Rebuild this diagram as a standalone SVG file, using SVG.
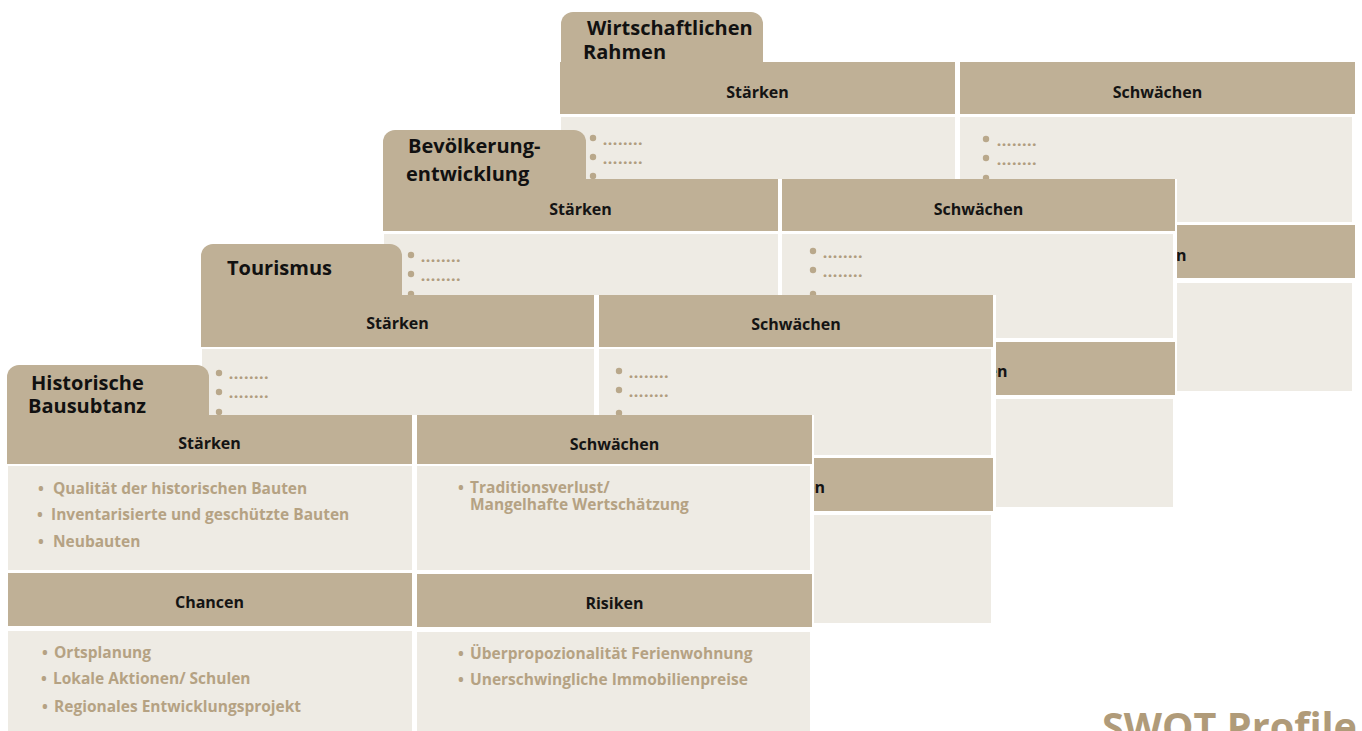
<svg xmlns="http://www.w3.org/2000/svg" width="1362" height="731" viewBox="0 0 1362 731">
<style>
.bg{fill:#ffffff}
.hd{fill:#bfb096}
.bd{fill:#eeebe4}
.blt{fill:#b9a88b}
.ttl{font-family:"Open Sans","Liberation Sans",sans-serif;font-weight:700;font-size:20px;fill:#111111}
.hl{font-family:"Open Sans","Liberation Sans",sans-serif;font-weight:700;font-size:16px;fill:#141414;text-anchor:middle}
.it{font-family:"Open Sans","Liberation Sans",sans-serif;font-weight:700;font-size:15.5px;fill:#b5a283}
.dots{font-family:"Open Sans","Liberation Sans",sans-serif;font-weight:800;font-size:14px;fill:#b09d7f;letter-spacing:1px}
.big{font-family:"Open Sans","Liberation Sans",sans-serif;font-weight:700;font-size:39.6px;fill:#b09b79}
</style>
<rect x="0" y="0" width="1362" height="731" fill="#ffffff"/>

<g id="card-wirtschaft">
  <rect class="bg" x="558" y="62" width="800" height="331"/>
  <path class="hd" d="M561,63 V24 A12,12 0 0 1 573,12 H751 A12,12 0 0 1 763,24 V63 Z"/>
  <rect class="hd" x="560" y="62" width="395" height="52"/>
  <rect class="hd" x="960" y="62" width="395" height="52"/>
  <rect class="bd" x="561" y="117" width="394" height="105"/>
  <rect class="bd" x="960" y="117" width="392" height="105"/>
  <rect class="hd" x="560" y="225" width="395" height="53"/>
  <rect class="hd" x="960" y="225" width="395" height="53"/>
  <rect class="bd" x="561" y="283" width="394" height="108"/>
  <rect class="bd" x="960" y="283" width="392" height="108"/>
  <text class="ttl" x="587" y="35">Wirtschaftlichen</text>
  <text class="ttl" x="583" y="59">Rahmen</text>
  <text class="hl" x="757.5" y="98">Stärken</text>
  <text class="hl" x="1157.5" y="98">Schwächen</text>
  <text class="hl" x="1157.5" y="261">Risiken</text>
  <circle class="blt" cx="593" cy="138" r="3.2"/>
  <circle class="blt" cx="593" cy="157" r="3.2"/>
  <circle class="blt" cx="593" cy="176" r="3.2"/>
  <text class="dots" x="603" y="145">........</text>
  <text class="dots" x="603" y="164">........</text>
  <circle class="blt" cx="986" cy="139" r="3.2"/>
  <circle class="blt" cx="986" cy="158" r="3.2"/>
  <circle class="blt" cx="986" cy="178" r="3.2"/>
  <text class="dots" x="997" y="146">........</text>
  <text class="dots" x="997" y="165">........</text>
</g>

<g id="card-bevoelkerung">
  <rect class="bg" x="381" y="179" width="796" height="330"/>
  <path class="hd" d="M383,180 V142 A12,12 0 0 1 395,130 H574 A12,12 0 0 1 586,142 V180 Z"/>
  <rect class="hd" x="383" y="179" width="395" height="52"/>
  <rect class="hd" x="782" y="179" width="393" height="52"/>
  <rect class="bd" x="384" y="234" width="394" height="104"/>
  <rect class="bd" x="782" y="234" width="391" height="104"/>
  <rect class="hd" x="383" y="342" width="395" height="53"/>
  <rect class="hd" x="782" y="342" width="393" height="53"/>
  <rect class="bd" x="384" y="399" width="394" height="108"/>
  <rect class="bd" x="782" y="399" width="391" height="108"/>
  <text class="ttl" x="408" y="153">Bevölkerung-</text>
  <text class="ttl" x="406" y="181">entwicklung</text>
  <text class="hl" x="580.5" y="215">Stärken</text>
  <text class="hl" x="978.5" y="215">Schwächen</text>
  <text class="hl" x="978.5" y="377">Risiken</text>
  <circle class="blt" cx="411" cy="255" r="3.2"/>
  <circle class="blt" cx="411" cy="274" r="3.2"/>
  <circle class="blt" cx="411" cy="294" r="3.2"/>
  <text class="dots" x="421" y="262">........</text>
  <text class="dots" x="421" y="281">........</text>
  <circle class="blt" cx="813" cy="251" r="3.2"/>
  <circle class="blt" cx="813" cy="270" r="3.2"/>
  <circle class="blt" cx="813" cy="294" r="3.2"/>
  <text class="dots" x="823" y="258">........</text>
  <text class="dots" x="823" y="277">........</text>
</g>

<g id="card-tourismus">
  <rect class="bg" x="199" y="295" width="797" height="330"/>
  <path class="hd" d="M201,296 V256 A12,12 0 0 1 213,244 H390 A12,12 0 0 1 402,256 V296 Z"/>
  <rect class="hd" x="201" y="295" width="393" height="52"/>
  <rect class="hd" x="599" y="295" width="394" height="52"/>
  <rect class="bd" x="202" y="349" width="392" height="106"/>
  <rect class="bd" x="599" y="349" width="392" height="106"/>
  <rect class="hd" x="201" y="458" width="393" height="53"/>
  <rect class="hd" x="599" y="458" width="394" height="53"/>
  <rect class="bd" x="202" y="515" width="392" height="108"/>
  <rect class="bd" x="599" y="515" width="392" height="108"/>
  <text class="ttl" x="227" y="275">Tourismus</text>
  <text class="hl" x="397.5" y="329">Stärken</text>
  <text class="hl" x="796" y="330">Schwächen</text>
  <text class="hl" x="796" y="493">Risiken</text>
  <circle class="blt" cx="219" cy="373" r="3.2"/>
  <circle class="blt" cx="219" cy="392" r="3.2"/>
  <circle class="blt" cx="219" cy="412" r="3.2"/>
  <text class="dots" x="229" y="379">........</text>
  <text class="dots" x="229" y="398">........</text>
  <circle class="blt" cx="619" cy="371" r="3.2"/>
  <circle class="blt" cx="619" cy="390" r="3.2"/>
  <circle class="blt" cx="619" cy="413" r="3.2"/>
  <text class="dots" x="629" y="378">........</text>
  <text class="dots" x="629" y="397">........</text>
</g>

<g id="card-historische">
  <rect class="bg" x="5" y="415" width="809" height="316"/>
  <path class="hd" d="M7,416 V377 A12,12 0 0 1 19,365 H197 A12,12 0 0 1 209,377 V416 Z"/>
  <rect class="hd" x="7" y="415" width="405" height="49"/>
  <rect class="hd" x="417" y="415" width="395" height="49"/>
  <rect class="bd" x="8" y="466" width="404" height="104"/>
  <rect class="bd" x="417" y="466" width="393" height="104"/>
  <rect class="hd" x="8" y="573" width="404" height="53"/>
  <rect class="hd" x="417" y="574" width="395" height="53"/>
  <rect class="bd" x="8" y="631" width="404" height="110"/>
  <rect class="bd" x="417" y="632" width="393" height="110"/>
  <text class="ttl" x="31" y="390">Historische</text>
  <text class="ttl" x="28" y="413">Bausubtanz</text>
  <text class="hl" x="209.5" y="449">Stärken</text>
  <text class="hl" x="614.5" y="450">Schwächen</text>
  <text class="hl" x="209.5" y="608">Chancen</text>
  <text class="hl" x="614.5" y="609">Risiken</text>
  <text class="it" y="494"><tspan x="38">•</tspan><tspan x="53">Qualität der historischen Bauten</tspan></text>
  <text class="it" y="520"><tspan x="37">•</tspan><tspan x="51">Inventarisierte und geschützte Bauten</tspan></text>
  <text class="it" y="547"><tspan x="38">•</tspan><tspan x="53">Neubauten</tspan></text>
  <text class="it" y="493"><tspan x="458">•</tspan><tspan x="470">Traditionsverlust/</tspan><tspan x="470" y="510">Mangelhafte Wertschätzung</tspan></text>
  <text class="it" y="658"><tspan x="42">•</tspan><tspan x="54">Ortsplanung</tspan></text>
  <text class="it" y="684"><tspan x="41">•</tspan><tspan x="53">Lokale Aktionen/ Schulen</tspan></text>
  <text class="it" y="712"><tspan x="42">•</tspan><tspan x="54">Regionales Entwicklungsprojekt</tspan></text>
  <text class="it" y="659"><tspan x="458">•</tspan><tspan x="470">Überpropozionalität Ferienwohnung</tspan></text>
  <text class="it" y="685"><tspan x="458">•</tspan><tspan x="470">Unerschwingliche Immobilienpreise</tspan></text>
</g>

<g id="title">
  <text class="big" x="1357" y="741" text-anchor="end">SWOT Profile</text>
</g>
</svg>
